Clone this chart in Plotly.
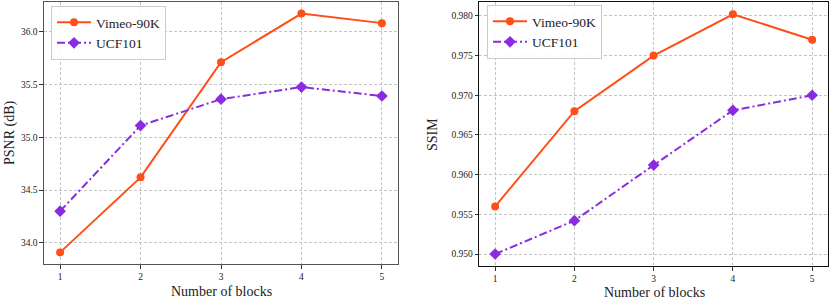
import plotly.graph_objects as go

blocks = [1, 2, 3, 4, 5]
psnr_vimeo = [33.91, 34.62, 35.71, 36.17, 36.08]
psnr_ucf = [34.30, 35.11, 35.36, 35.475, 35.39]
ssim_vimeo = [0.956, 0.968, 0.975, 0.9802, 0.977]
ssim_ucf = [0.950, 0.9542, 0.9612, 0.9681, 0.970]
psnr_ticks = [34.0, 34.5, 35.0, 35.5, 36.0]
ssim_ticks = [0.950, 0.955, 0.960, 0.965, 0.970, 0.975, 0.980]

ORANGE = "#FF4E18"
PURPLE = "#8A2BE2"
FONT = "Liberation Serif"

W, H = 831, 300
fig = go.Figure()

def add_pair(xa, ya, yv, yu, leg):
    fig.add_trace(go.Scatter(x=blocks, y=yv, name="Vimeo-90K", mode="lines+markers",
                             line=dict(color=ORANGE, width=2),
                             marker=dict(symbol="circle", size=8, color=ORANGE),
                             xaxis=xa, yaxis=ya, legend=leg))
    fig.add_trace(go.Scatter(x=blocks, y=yu, name="UCF101", mode="lines+markers",
                             line=dict(color=PURPLE, width=2, dash="8px,3px,2px,3px"),
                             marker=dict(symbol="diamond", size=9, color=PURPLE),
                             xaxis=xa, yaxis=ya, legend=leg))

add_pair("x", "y", psnr_vimeo, psnr_ucf, "legend")
add_pair("x2", "y2", ssim_vimeo, ssim_ucf, "legend2")

grid = dict(showgrid=True, gridcolor="#c4c4c4", gridwidth=0.8, griddash="3px,2px",
            ticks="outside", ticklen=3.5, tickwidth=1, tickcolor="#333",
            showline=True, mirror=True, zeroline=False,
            tickfont=dict(family=FONT, size=9.5, color="#222"))

fig.update_layout(
    width=W, height=H, margin=dict(l=0, r=0, t=0, b=0),
    paper_bgcolor="white", plot_bgcolor="white",
    font=dict(family=FONT, color="#222"),
    xaxis=dict(domain=[44 / W, 398 / W], range=[0.8, 5.2], tickvals=blocks,
               anchor="y", linecolor="#555", linewidth=1.2, **grid),
    yaxis=dict(domain=[1 - 264 / H, 1 - 2 / H], range=[33.80, 36.28],
               tickvals=psnr_ticks, tickformat=".1f", anchor="x",
               linecolor="#555", linewidth=1.2, **grid),
    xaxis2=dict(domain=[479.3 / W, 828 / W], range=[0.8, 5.2], tickvals=blocks,
                anchor="y2", linecolor="#111", linewidth=1.2, **grid),
    yaxis2=dict(domain=[1 - 266 / H, 1 - 2.3 / H], range=[0.94849, 0.98171],
                tickvals=ssim_ticks, tickformat=".3f", anchor="x2",
                linecolor="#111", linewidth=1.2, **grid),
    legend=dict(x=51 / W, y=1 - 6 / H, xanchor="left", yanchor="top",
                bgcolor="rgba(255,255,255,0.9)", bordercolor="#cccccc", borderwidth=1,
                font=dict(family=FONT, size=13.5, color="#222"),
                tracegroupgap=0, itemwidth=34),
    legend2=dict(x=487 / W, y=1 - 5 / H, xanchor="left", yanchor="top",
                 bgcolor="rgba(255,255,255,0.9)", bordercolor="#cccccc", borderwidth=1,
                 font=dict(family=FONT, size=13.5, color="#222"),
                 tracegroupgap=0, itemwidth=34),
    showlegend=True,
)

ann_font = dict(family=FONT, size=14, color="#222")
common = dict(xref="paper", yref="paper", showarrow=False, font=ann_font,
              xanchor="center", yanchor="middle")
fig.add_annotation(text="PSNR (dB)", x=10 / W, y=1 - 133 / H, textangle=-90, **common)
fig.add_annotation(text="SSIM", x=432 / W, y=1 - 134 / H, textangle=-90, **common)
fig.add_annotation(text="Number of blocks", x=221 / W, y=1 - 291 / H, **common)
fig.add_annotation(text="Number of blocks", x=654 / W, y=1 - 292 / H, **common)

fig.write_html("out.html", config={"displayModeBar": False},
               post_script="document.body.style.margin='0';document.body.style.padding='0';")
